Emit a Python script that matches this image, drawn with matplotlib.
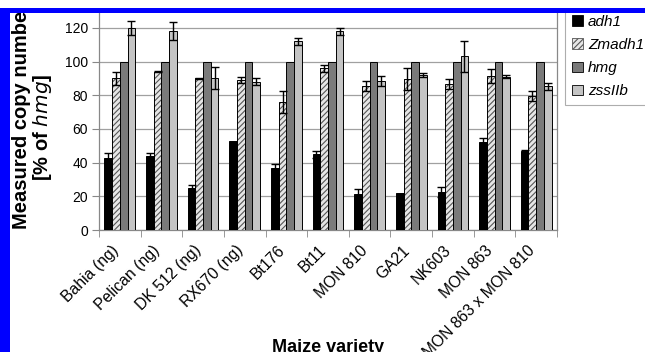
import matplotlib
matplotlib.use("Agg")
import matplotlib.pyplot as plt
import matplotlib.transforms as mtransforms
import numpy as np
from matplotlib.patches import Patch, Rectangle

varieties = ["Bahia (ng)", "Pelican (ng)", "DK 512 (ng)", "RX670 (ng)", "Bt176", "Bt11",
             "MON 810", "GA21", "NK603", "MON 863", "MON 863 x MON 810"]
series = ["adh1", "Zmadh1", "hmg", "zssIIb"]

adh1 = [43, 44, 25, 53, 37, 45, 21.5, 22, 22.5, 52, 46.6]
adh1_err = [3, 1.5, 2, 0, 2, 2, 3, 0, 3, 2.5, 1]
zmadh1 = [90, 94, 90, 89, 76, 96, 85.5, 89.5, 86.5, 91.5, 79.5]
zmadh1_err = [4, 0.5, 0.5, 2, 6.5, 2, 3, 6.5, 3, 4, 3]
hmg = [100, 100, 100, 100, 100, 100, 100, 100, 100, 100, 100]
hmg_err = [0] * 11
zssiib = [120, 118, 90, 88, 112, 118, 88.5, 92, 103, 91, 85.3]
zssiib_err = [4, 5.5, 6.5, 2, 2, 2, 3, 1, 9, 1, 2]

values = [adh1, zmadh1, hmg, zssiib]
errors = [adh1_err, zmadh1_err, hmg_err, zssiib_err]
faces = ["#000000", "#e6e6e6", "#7a7a7a", "#c4c4c4"]
hatches = [None, "//////", None, None]

plt.rcParams["font.family"] = ["Liberation Sans", "DejaVu Sans"]
plt.rcParams["hatch.linewidth"] = 0.8

W, H = 645, 352
fig = plt.figure(figsize=(W / 100, H / 100), dpi=100)
ax = fig.add_axes([99 / W, 1 - 230 / H, (557 - 99) / W, (230 - 11) / H])

x = np.arange(len(varieties))
bw = 0.185
for i, (vals, errs) in enumerate(zip(values, errors)):
    pos = x + (i - 1.5) * bw
    if hatches[i]:
        ax.bar(pos, vals, bw, color=faces[i], edgecolor="#555555", hatch=hatches[i],
               linewidth=0, zorder=2)
        ax.bar(pos, vals, bw, fill=False, edgecolor="black", linewidth=0.7, zorder=3)
    else:
        ax.bar(pos, vals, bw, color=faces[i], edgecolor="black", linewidth=0.7, zorder=3)
    e = np.array(errs, dtype=float)
    mask = e > 0
    ax.errorbar(pos[mask], np.array(vals)[mask], yerr=e[mask], fmt="none",
                ecolor="black", elinewidth=1, capsize=2.6, capthick=1, zorder=4)

ax.set_ylim(0, 130)
ax.set_xlim(-0.5, len(varieties) - 0.5)
ax.set_yticks(range(0, 121, 20))
ax.yaxis.grid(True, color="#a0a0a0", linewidth=0.9, zorder=0)
ax.set_axisbelow(True)
ax.tick_params(axis="y", labelsize=10, length=5, color="#888888", pad=3)
ax.set_xticks(x)
ax.set_xticklabels(varieties, rotation=45, ha="right", va="center",
                   rotation_mode="anchor", fontsize=11.3)
ax.tick_params(axis="x", which="major", length=0, pad=13)
shift = mtransforms.ScaledTranslation(-4 / 100, 0, fig.dpi_scale_trans)
for lbl in ax.get_xticklabels():
    lbl.set_transform(lbl.get_transform() + shift)
ax.set_xticks(np.arange(-0.5, len(varieties), 1), minor=True)
ax.tick_params(axis="x", which="minor", length=5, color="#888888")
for s in ax.spines.values():
    s.set_color("#888888")
    s.set_linewidth(0.9)

ax.set_xlabel("Maize variety", fontsize=13, fontweight="bold", labelpad=0)
ax.xaxis.set_label_coords(0.5, -0.5)

fig.text(12 / W, 1 - 229 / H, "Measured copy number", rotation=90, ha="left", va="bottom",
         fontsize=14.5, fontweight="bold")
fig.text(31 / W, 1 - 127 / H, "[% of $\\bf{\\it{hmg}}$]", rotation=90, ha="left", va="center",
         fontsize=14.5, fontweight="bold")

handles = [Patch(facecolor=faces[i], edgecolor="black" if i != 1 else "#555555",
                 hatch=hatches[i], linewidth=0.6) for i in range(4)]
leg = fig.legend(handles, series, loc="upper left", bbox_to_anchor=(565 / W, 1 - 8 / H),
                 prop={"style": "italic", "size": 11}, frameon=True,
                 fancybox=False, handlelength=0.7, handleheight=0.7, handletextpad=0.35,
                 labelspacing=0.6, borderpad=0.45, borderaxespad=0)
leg.get_frame().set_edgecolor("#999999")
leg.get_frame().set_linewidth(0.8)

blue = "#0000ff"
fig.add_artist(Rectangle((0, 0), 10 / W, 1 - 8 / H, transform=fig.transFigure,
                         facecolor=blue, edgecolor="none", zorder=10))
fig.add_artist(Rectangle((0, 1 - 13 / H), 1, 5 / H, transform=fig.transFigure,
                         facecolor=blue, edgecolor="none", zorder=10))
fig.add_artist(Rectangle((0, 1 - 8 / H), 1, 8 / H, transform=fig.transFigure,
                         facecolor="white", edgecolor="none", zorder=10))

fig.savefig("out.png", dpi=100)
